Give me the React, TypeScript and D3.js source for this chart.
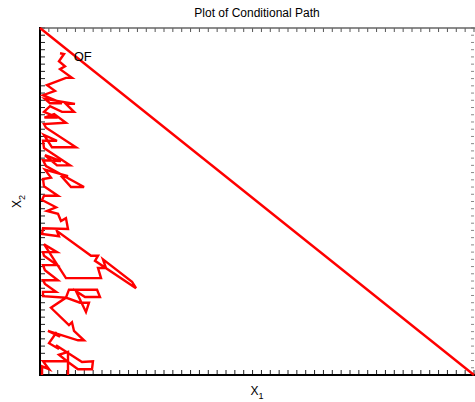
import React from "react";
import * as d3 from "d3";

const W = 475;
const H = 402;
const xDomain = [0, 49];
const yDomain = [0, 48];
const xTickValues = d3.range(0, 50);
const yTickValues = d3.range(0, 49);

// conditional path (x1, x2)
const pathX1 = [
  2.26, 2.71, 2.14, 2.82, 2.26, 3.61, 2.93, 0.79, 1.69, 0.34, 2.48, 1.13, 0.56, 3.95, 2.93, 3.84, 2.48, 1.13, 0.45,
  2.0, 0.5, 1.6, 2.93, 0.45, 0.68, 4.06, 1.35, 0.45, 1.92, 0.34, 0.45, 3.39, 1.92, 0.56, 2.37, 0.34, 0.68, 4.97, 3.5, 2.48, 3.16,
  0.56, 1.24, 0.34, 0.45, 2.03, 0.45, 0.23, 1.81, 0.79, 2.03, 2.37, 2.93, 3.16, 0.34, 0.23, 2.14, 1.92, 5.76, 6.55,
  6.21, 10.84, 10.39, 7.11, 7.45, 6.55, 6.89, 2.93, 0.45, 1.92, 0.34, 0.45, 1.92, 0.34, 0.56, 2.03, 0.34, 0.56, 1.81,
  0.34, 0.34, 2.93, 3.27, 6.44, 6.77, 5.08, 4.06, 5.19, 5.53, 4.52, 2.93, 1.24, 3.27, 3.61, 3.84, 4.97, 4.29, 0.9,
  2.26, 1.81, 1.02, 2.14, 1.81, 4.74, 5.98, 5.87, 4.29, 3.16, 2.14, 3.16, 3.16, 3.16, 0.34, 1.02, 0.23, 0.23,
];
const pathX2 = [
  44.5, 44.4, 43.4, 42.7, 42.3, 41.1, 41.1, 40.1, 39.3, 38.7, 37.6, 37.6, 38.2, 37.5, 37.5, 36.4, 36.4, 37.2, 36.4,
  35.6, 35.6, 36.1, 34.9, 34.7, 34.2, 31.5, 31.5, 33.2, 32.4, 32.4, 31.4, 29.0, 29.0, 30.4, 29.6, 29.7, 28.9, 26.0, 26.0, 27.4, 27.5,
  28.4, 27.3, 27.1, 26.1, 24.8, 24.8, 24.2, 23.2, 22.7, 22.3, 21.3, 21.7, 20.2, 20.3, 19.5, 19.2, 19.9, 16.5, 16.5,
  15.8, 12.0, 12.9, 16.0, 14.8, 14.8, 13.4, 13.4, 18.1, 17.0, 17.0, 16.5, 15.2, 15.2, 14.5, 13.1, 13.1, 12.6, 11.5,
  11.5, 10.9, 10.7, 11.8, 11.8, 10.8, 10.8, 11.6, 8.7, 10.0, 10.0, 10.7, 9.3, 6.9, 7.3, 6.1, 4.8, 4.8, 6.1,
  5.3, 5.8, 4.4, 3.6, 4.1, 1.8, 1.9, 0.8, 0.8, 1.8, 2.8, 3.2, 0, 1.9, 1.9, 0.8, 1.2, 0,
];

// constraint boundary
const boundaryX1 = [0, 49];
const boundaryX2 = [48, 0];

const labelText = "OF";
const labelX1 = 3.8;
const labelX2 = 43.4;

const title = "Plot of Conditional Path";

export default function App() {
  const left = 40, right = 474, top = 28, bottom = 375;
  const x = d3.scaleLinear().domain(xDomain).range([left, right]);
  const y = d3.scaleLinear().domain(yDomain).range([bottom, top]);
  const line = d3
    .line<[number, number]>()
    .x((d) => x(d[0]))
    .y((d) => y(d[1]));
  const pathPts: [number, number][] = pathX1.map((v, i) => [v, pathX2[i]]);
  const bPts: [number, number][] = boundaryX1.map((v, i) => [v, boundaryX2[i]]);
  const font = "'Liberation Sans', Arial, sans-serif";

  return (
    <svg
      width={W}
      height={H}
      style={{ position: "absolute", left: 0, top: 0, background: "#fff" }}
      fontFamily={font}
    >
      <rect x={0} y={0} width={W} height={H} fill="#fff" />
      <text x={(left + right) / 2} y={17} textAnchor="middle" fontSize={12} fill="#000">
        {title}
      </text>
      {/* ticks */}
      {xTickValues.map((t) => (
        <g key={"xt" + t}>
          <line x1={x(t)} x2={x(t)} y1={bottom} y2={bottom - 5} stroke="#222" strokeWidth={1} />
          <line x1={x(t)} x2={x(t)} y1={top} y2={top + 4} stroke="#555" strokeWidth={1} />
        </g>
      ))}
      {yTickValues.map((t) => (
        <g key={"yt" + t}>
          <line x1={left} x2={left + 5} y1={y(t)} y2={y(t)} stroke="#222" strokeWidth={1} />
          <line x1={right} x2={right - 3} y1={y(t)} y2={y(t)} stroke="#888" strokeWidth={1} />
        </g>
      ))}
      {/* frame */}
      <line x1={left} x2={right + 2} y1={top} y2={top} stroke="#666" strokeWidth={1.5} />
      <line x1={left} x2={left} y1={top - 1} y2={bottom + 1} stroke="#000" strokeWidth={2} />
      <line x1={left - 1} x2={right + 2} y1={bottom} y2={bottom} stroke="#000" strokeWidth={2} />
      {/* data */}
      <path d={line(bPts) || ""} fill="none" stroke="#ff0000" strokeWidth={2.4} />
      <path d={line(pathPts) || ""} fill="none" stroke="#ff0000" strokeWidth={2.4} strokeLinejoin="miter" />
      <text x={x(labelX1)} y={y(labelX2)} fontSize={13} fill="#000">
        {labelText}
      </text>
      {/* axis labels */}
      <text x={(left + right) / 2} y={395} textAnchor="middle" fontSize={12} fill="#000">
        X<tspan fontSize={9} dy={4}>1</tspan>
      </text>
      <text
        transform={`translate(21, ${(top + bottom) / 2}) rotate(-90)`}
        textAnchor="middle"
        fontSize={12}
        fill="#000"
      >
        X<tspan fontSize={9} dy={4}>2</tspan>
      </text>
    </svg>
  );
}
